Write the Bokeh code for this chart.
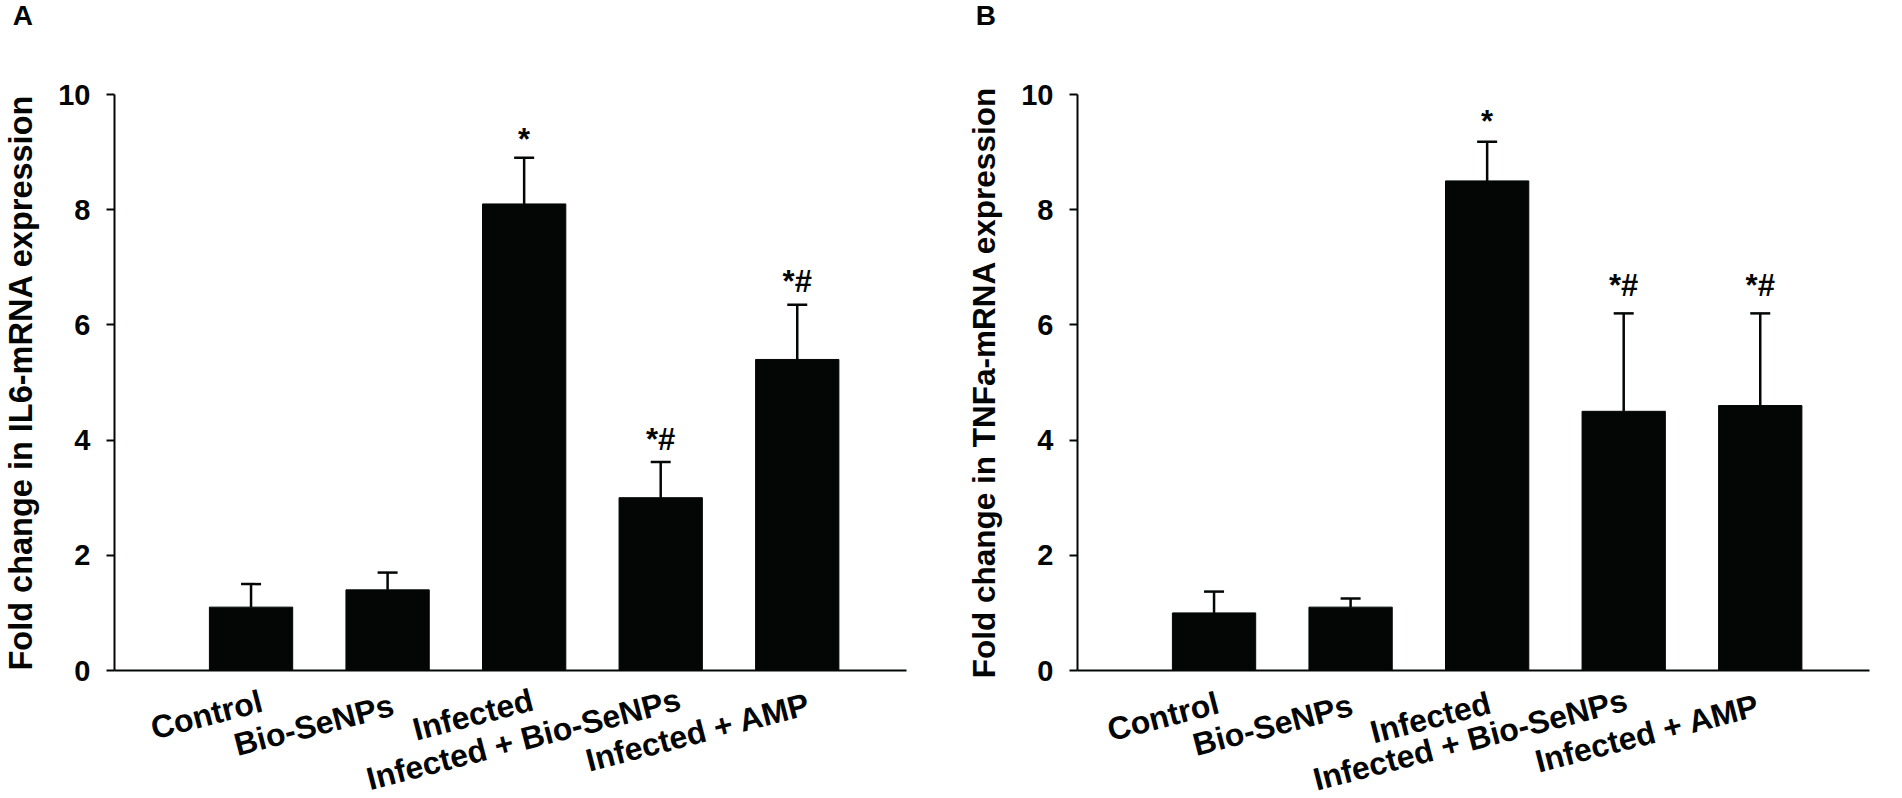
from bokeh.core.properties import value
from bokeh.embed import file_html
from bokeh.layouts import row
from bokeh.models import ColumnDataSource, FixedTicker, LinearAxis, Range1d, TeeHead, Whisker
from bokeh.plotting import figure
from bokeh.resources import INLINE
import math

# data
groups = ["Control", "Bio-SeNPs", "Infected", "Infected + Bio-SeNPs", "Infected + AMP"]
positions = [1, 2, 3, 4, 5]
il6_mean = [1.1, 1.4, 8.1, 3.0, 5.4]
il6_top = [1.5, 1.7, 8.9, 3.62, 6.35]
il6_mark_y = [1.5, 1.7, 8.86, 3.66, 6.39]
tnf_mean = [1.0, 1.1, 8.5, 4.5, 4.6]
tnf_top = [1.37, 1.25, 9.18, 6.2, 6.2]
tnf_mark_y = [1.37, 1.25, 9.18, 6.33, 6.33]
marks = ["", "", "*", "*#", "*#"]
y_ticks = [0, 2, 4, 6, 8, 10]

# where the slanted group names end, in axis units
il6_name_x = [1.077, 2.04, 3.06, 4.14, 5.09]
il6_name_y = [-0.52, -0.59, -0.50, -0.49, -0.57]
tnf_name_x = [1.03, 2.01, 3.02, 4.02, 4.99]
tnf_name_y = [-0.55, -0.59, -0.55, -0.50, -0.59]

FONT = "Liberation Sans"
INK = "#040606"
HEIGHT = 798
PX_X = 136.55
PX_Y = 57.6


def panel(letter, ylabel, label_size, mean, top, mark_y, name_x, name_y, width, origin):
    # the frame fills the figure so the names and panel letter are not cut off
    p = figure(width=width, height=HEIGHT,
               x_range=Range1d(-origin / PX_X, (width - origin) / PX_X),
               y_range=Range1d(-(HEIGHT - 670) / PX_Y, 10 + 94 / PX_Y),
               output_backend="svg", toolbar_location=None, x_axis_location=None, y_axis_location=None,
               min_border=0)
    p.outline_line_color = None
    p.grid.visible = False

    yaxis = LinearAxis(ticker=FixedTicker(ticks=y_ticks), axis_label=ylabel, fixed_location=0, bounds=(0, 10))
    yaxis.axis_line_width = 2
    yaxis.axis_line_color = INK
    yaxis.major_tick_line_width = 2
    yaxis.major_tick_line_color = INK
    yaxis.major_tick_out = 8
    yaxis.major_tick_in = 0
    yaxis.minor_tick_line_color = None
    yaxis.major_label_text_color = INK
    yaxis.major_label_text_font = FONT
    yaxis.major_label_text_font_style = "bold"
    yaxis.major_label_text_font_size = "29px"
    yaxis.major_label_standoff = 16
    yaxis.axis_label_text_color = INK
    yaxis.axis_label_text_font = FONT
    yaxis.axis_label_text_font_style = "bold"
    yaxis.axis_label_text_font_size = label_size
    yaxis.axis_label_standoff = 16
    p.add_layout(yaxis, "left")

    xaxis = LinearAxis(ticker=FixedTicker(ticks=[]), fixed_location=0, bounds=(0, 5.8))
    xaxis.axis_line_width = 2
    xaxis.axis_line_color = INK
    xaxis.major_label_text_font_size = "0px"
    xaxis.major_tick_line_color = None
    xaxis.minor_tick_line_color = None
    p.add_layout(xaxis, "below")

    source = ColumnDataSource(data=dict(x=positions, mean=mean, top=top, mark_y=mark_y, marks=marks))
    p.vbar(x="x", top="mean", bottom=0, width=0.61, color=INK, source=source)
    p.add_layout(Whisker(base="x", lower="mean", upper="top", source=source, line_width=2.5, line_color=INK,
                         lower_head=None, upper_head=TeeHead(size=20, line_width=2.5, line_color=INK)))

    p.text(x="x", y="mark_y", text="marks", source=source, text_align="center", text_baseline="bottom", y_offset=-3,
           text_font=value(FONT), text_font_style="bold", text_font_size="31px", text_color=INK)

    # staggered, slanted group names
    p.text(x=name_x, y=name_y, text=groups, angle=math.radians(14.5), text_align="right",
           text_baseline="alphabetic", text_font=value(FONT), text_font_style="bold",
           text_font_size="32px", text_color=INK)

    p.text(x=[-0.745], y=[11.37], text=[letter], text_baseline="alphabetic", text_font=value(FONT),
           text_font_style="bold", text_font_size="28px", text_color=INK)
    return p


a = panel("A", "Fold change in IL6-mRNA expression", "32.5px", il6_mean, il6_top, il6_mark_y,
          il6_name_x, il6_name_y, 930, 114)
b = panel("B", "Fold change in TNFa-mRNA expression", "31.5px", tnf_mean, tnf_top, tnf_mark_y,
          tnf_name_x, tnf_name_y, 960, 147)

page = row(a, b)
open("out.html", "w").write(file_html(page, INLINE))
